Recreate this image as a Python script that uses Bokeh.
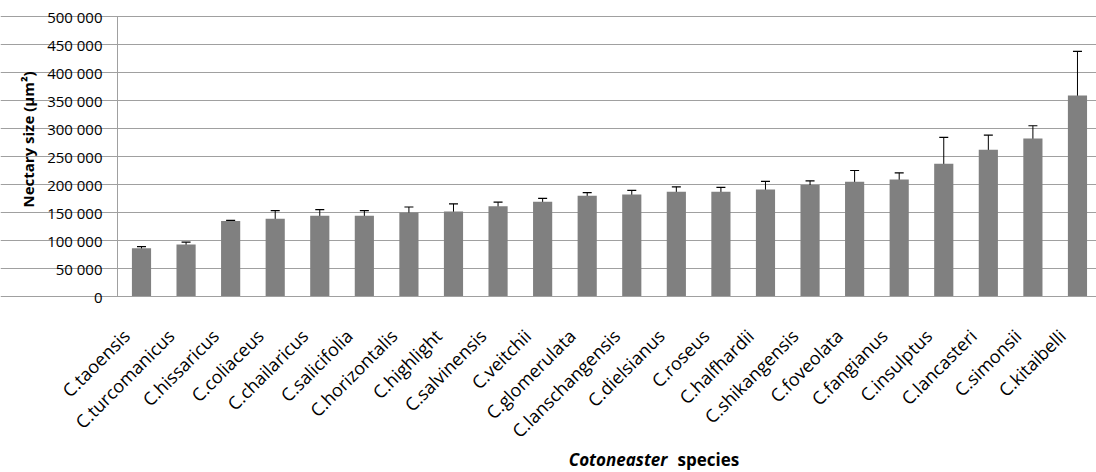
import math
from bokeh.plotting import figure
from bokeh.models import (ColumnDataSource, Range1d, FixedTicker, Whisker, TeeHead, Label)
from bokeh.embed import file_html
from bokeh.resources import INLINE

categories = ["C.taoensis", "C.turcomanicus", "C.hissaricus", "C.coliaceus", "C.chailaricus",
              "C.salicifolia", "C.horizontalis", "C.highlight", "C.salvinensis", "C.veitchii",
              "C.glomerulata", "C.lanschangensis", "C.dielsianus", "C.roseus", "C.halfhardii",
              "C.shikangensis", "C.foveolata", "C.fangianus", "C.insulptus", "C.lancasteri",
              "C.simonsii", "C.kitaibelli"]
means = [86000, 93000, 135000, 139000, 144000, 144000, 150000, 152000, 161000, 169000,
         180000, 182000, 187000, 187000, 191000, 199000, 205000, 209000, 237000, 262000,
         282000, 359000]
errors = [3000, 4000, 1000, 14500, 11000, 9500, 9800, 13400, 7400, 6200,
          5400, 7500, 8900, 8000, 14500, 7400, 20000, 11600, 47300, 26200,
          22900, 78900]
y_ticks = [0, 50000, 100000, 150000, 200000, 250000, 300000, 350000, 400000, 450000, 500000]
y_tick_labels = ["0", "50 000", "100 000", "150 000", "200 000", "250 000", "300 000",
                 "350 000", "400 000", "450 000", "500 000"]
y_title = "Nectary size (\u03bcm\u00b2)"
x_title_italic = "Cotoneaster"
x_title_rest = "species"

FONT = "Open Sans"
W, H = 1096, 472
# plot-area geometry in canvas pixels
AX_LEFT, AX_TOP, AX_BOTTOM = 117, 16, 296
FIRST_CENTER, STEP = 141, 44.57
Y_MAX = y_ticks[-1]
ppu = (AX_BOTTOM - AX_TOP) / Y_MAX          # pixels per value unit

x0 = -FIRST_CENTER / STEP                   # data x at canvas left edge
x1 = x0 + W / STEP                          # data x at canvas right edge
x_axis_left = (AX_LEFT - FIRST_CENTER) / STEP
y0 = -(H - AX_BOTTOM) / ppu                 # data y at canvas bottom
y1 = Y_MAX + AX_TOP / ppu                   # data y at canvas top

xs = list(range(len(categories)))
src = ColumnDataSource(dict(
    x=xs, top=means,
    upper=[m + e for m, e in zip(means, errors)],
    lower=[m - e for m, e in zip(means, errors)],
))

p = figure(width=W, height=H, output_backend="svg", toolbar_location=None,
           x_range=Range1d(x0, x1), y_range=Range1d(y0, y1),
           min_border_left=0, min_border_right=0, min_border_top=0, min_border_bottom=0)
p.outline_line_color = None
p.background_fill_color = "white"
p.border_fill_color = "white"

p.vbar(x="x", top="top", width=0.43, source=src, fill_color="#808080", line_color=None)
p.add_layout(Whisker(base="x", upper="upper", lower="lower", source=src,
                     line_color="black", line_width=1,
                     upper_head=TeeHead(size=9, line_color="black", line_width=1.2),
                     lower_head=TeeHead(size=9, line_color="black", line_width=1.2)))

# y axis, drawn at the plot-area left edge
ya = p.yaxis[0]
ya.fixed_location = x_axis_left
ya.ticker = FixedTicker(ticks=y_ticks)
ya.bounds = (0, Y_MAX)
ya.major_label_overrides = {t: l for t, l in zip(y_ticks, y_tick_labels)}
ya.axis_line_color = "#a0a0a0"
ya.major_tick_line_color = "#a0a0a0"
ya.major_tick_out = 5
ya.major_tick_in = 0
ya.minor_tick_line_color = None
ya.major_label_text_font = FONT
ya.major_label_text_font_size = "15px"
ya.major_label_text_color = "black"
ya.major_label_standoff = 10

# x axis drawn at value 0 (tick marks hidden; label anchors nudged left like the original)
label_shift = -0.34
label_pos = [i + label_shift for i in xs]
xa = p.xaxis[0]
xa.fixed_location = 0
xa.bounds = (x_axis_left, x1)
xa.ticker = FixedTicker(ticks=label_pos)
xa.major_label_overrides = {t: c for t, c in zip(label_pos, categories)}
xa.major_label_orientation = math.pi / 4
xa.axis_line_color = "#a0a0a0"
xa.major_tick_line_color = None
xa.minor_tick_line_color = None
xa.major_label_text_font = FONT
xa.major_label_text_font_size = "18px"
xa.major_label_text_color = "black"
xa.major_label_standoff = 30

p.xgrid.grid_line_color = None
p.ygrid.ticker = FixedTicker(ticks=y_ticks)
p.ygrid.bounds = (x_axis_left, x1)
p.ygrid.grid_line_color = "#a0a0a0"
p.ygrid.grid_line_width = 1

# titles (screen units: from the frame's bottom-left, which is the canvas' bottom-left)
p.add_layout(Label(x=27, y=H - 207, x_units="screen", y_units="screen", text=y_title,
                   angle=math.pi / 2, text_align="left", text_baseline="middle",
                   text_font=FONT, text_font_size="15px", text_font_style="bold",
                   text_color="black"))
p.add_layout(Label(x=667, y=H - 459, x_units="screen", y_units="screen",
                   text=x_title_italic, text_align="right", text_baseline="alphabetic",
                   text_font=FONT, text_font_size="17px", text_font_style="bold italic",
                   text_color="black"))
p.add_layout(Label(x=677, y=H - 459, x_units="screen", y_units="screen",
                   text=x_title_rest, text_align="left", text_baseline="alphabetic",
                   text_font=FONT, text_font_size="17px", text_font_style="bold",
                   text_color="black"))

open("out.html", "w").write(file_html(p, INLINE))
